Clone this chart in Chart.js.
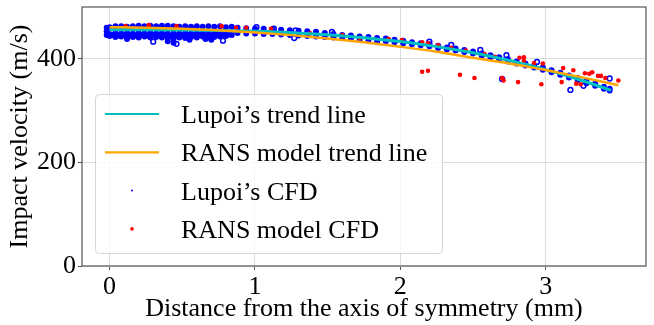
<!DOCTYPE html>
<html>
<head>
<meta charset="utf-8">
<script src="https://cdn.jsdelivr.net/npm/chart.js@4.4.0/dist/chart.umd.min.js"></script>
<style>
    html, body { margin: 0; padding: 0; background: #fff; }
    canvas { display: block; }
</style>
</head>
<body>
<canvas id="chart" width="654" height="325"></canvas>
<script>
var xTicks = [0, 1, 2, 3];
var yTicks = [0, 200, 400];

// trend lines
var lupoiTrendX = [0, 0.25, 0.5, 0.75, 1, 1.25, 1.5, 1.75, 2, 2.25, 2.5, 2.75, 3, 3.25, 3.45];
var lupoiTrendY = [456, 456, 455.6, 454.8, 453, 450.4, 446.4, 440.7, 433.2, 423.5, 411.5, 396.7, 379, 358.2, 339];
var ransTrendX = [0, 0.25, 0.5, 0.75, 1, 1.25, 1.5, 1.75, 2, 2.25, 2.5, 2.75, 3, 3.25, 3.5];
var ransTrendY = [461, 460.1, 458.2, 455.1, 451, 445.7, 439.3, 431.9, 423.3, 413.7, 402, 391.1, 378.2, 364.1, 349];

// Lupoi's CFD points, [x, y]
var lupoiCfd = [
    [0.00, 461], [0.04, 463], [0.08, 463], [0.12, 462], [0.16, 463], [0.20, 464], [0.24, 463], [0.28, 464],
    [0.32, 463], [0.36, 464], [0.40, 464], [0.44, 463], [0.48, 462], [0.52, 463], [0.56, 462], [0.60, 463],
    [0.64, 462], [0.68, 463], [0.72, 462], [0.76, 463], [0.80, 461], [0.84, 462],
    [0.00, 448], [0.04, 450], [0.08, 449], [0.12, 450], [0.16, 449], [0.20, 450], [0.24, 449], [0.28, 450],
    [0.32, 449], [0.36, 450], [0.40, 449], [0.44, 450], [0.48, 449], [0.52, 450], [0.56, 449], [0.60, 450],
    [0.64, 449], [0.68, 450], [0.72, 449], [0.76, 450], [0.80, 450], [0.84, 451],
    [0.02, 446], [0.06, 445], [0.10, 446], [0.14, 445], [0.18, 445], [0.22, 446], [0.26, 445], [0.30, 446],
    [0.34, 445], [0.38, 445], [0.42, 444], [0.46, 445], [0.50, 445], [0.54, 446], [0.58, 445], [0.62, 446],
    [0.66, 445], [0.70, 445], [0.74, 446], [0.78, 446], [0.82, 447],
    [0.00, 444], [0.04, 442], [0.08, 443], [0.12, 441], [0.16, 442], [0.20, 441], [0.24, 443], [0.28, 441],
    [0.32, 442], [0.36, 441], [0.40, 440], [0.44, 439], [0.48, 441], [0.52, 440], [0.56, 442], [0.60, 441],
    [0.64, 443], [0.68, 441], [0.72, 442], [0.76, 443], [0.80, 444], [0.84, 446],
    [-0.02, 460], [-0.02, 453], [-0.02, 446], [0.40, 434], [0.44, 431], [0.55, 437],
    [0.66, 438], [0.70, 437], [0.12, 438],
    [0.88, 460], [0.94, 459], [1.00, 458], [1.06, 458], [1.12, 457], [1.18, 456], [1.24, 455], [1.30, 454],
    [1.36, 453], [1.42, 452], [1.48, 450], [1.54, 448], [1.60, 446], [1.66, 445], [1.72, 443], [1.78, 442],
    [1.84, 440],
    [0.88, 450], [0.94, 449], [1.00, 449], [1.06, 448], [1.12, 448], [1.18, 447], [1.24, 446], [1.30, 445],
    [1.36, 444], [1.42, 443], [1.48, 442], [1.54, 441], [1.60, 440], [1.66, 438], [1.72, 437], [1.78, 435],
    [1.84, 433],
    [1.90, 439], [1.96, 437], [2.02, 435], [2.08, 432], [2.14, 430], [2.20, 428], [2.26, 425], [2.32, 422],
    [2.38, 420], [2.44, 417], [2.50, 414], [2.56, 410], [2.62, 407], [2.68, 403], [2.74, 399], [2.80, 395],
    [2.86, 391], [2.92, 387], [2.98, 383], [3.04, 378], [3.10, 373], [3.16, 368], [3.22, 363], [3.28, 357],
    [3.34, 352], [3.40, 346], [3.44, 342],
    [1.90, 434], [1.96, 432], [2.02, 430], [2.08, 428], [2.14, 426], [2.20, 424], [2.26, 421], [2.32, 418],
    [2.38, 416], [2.44, 413], [2.50, 410], [2.56, 406], [2.62, 403], [2.68, 399], [2.74, 395], [2.80, 391],
    [2.86, 387], [2.92, 383], [2.98, 379], [3.04, 374], [3.10, 369], [3.16, 364], [3.22, 359], [3.28, 353],
    [3.34, 348], [3.40, 342], [3.44, 339]
];

// little ring-shaped clusters of Lupoi's CFD
var lupoiCfdRings = [
    [0.30, 433], [0.46, 429], [0.78, 435], [1.01, 461], [1.13, 458], [1.28, 455], [1.27, 440], [1.53, 452],
    [2.20, 433], [2.35, 427], [2.55, 417], [2.73, 407], [2.94, 394], [2.70, 361], [3.17, 340], [3.26, 348],
    [3.44, 362]
];

// RANS model CFD points, [x, y]
var ransCfd = [
    [0.11, 463], [0.27, 465], [0.46, 463], [0.77, 463], [0.87, 460], [0.94, 460], [1.11, 458], [1.18, 450],
    [1.38, 449], [1.60, 446], [1.72, 440], [1.92, 438], [2.01, 436], [2.15, 432], [2.19, 430], [2.26, 426],
    [2.35, 421], [2.45, 416], [2.58, 409], [2.65, 404],
    [2.15, 375], [2.19, 377], [2.41, 369], [2.51, 363], [2.70, 363], [2.71, 358], [2.81, 355], [2.82, 402],
    [2.85, 403], [2.85, 396], [2.92, 392], [2.98, 391], [2.97, 351], [3.12, 382], [3.19, 378], [3.11, 355],
    [3.21, 352], [3.24, 351], [3.27, 372], [3.30, 371], [3.32, 374], [3.36, 367], [3.38, 367], [3.41, 363],
    [3.50, 358]
];

function toPoints(xs, ys) {
    var pts = [];
    for (var i = 0; i < xs.length; i++) {
        pts.push({ x: xs[i], y: ys[i] });
    }
    return pts;
}

function pairsToPoints(pairs) {
    return pairs.map(function (p) { return { x: p[0], y: p[1] }; });
}

var frameBox = {
    id: 'frameBox',
    afterDatasetsDraw: function (chart) {
        var a = chart.chartArea;
        var ctx = chart.ctx;
        ctx.save();
        ctx.strokeStyle = '#555';
        ctx.lineWidth = 1.2;
        ctx.strokeRect(a.left, a.top, a.right - a.left, a.bottom - a.top);
        ctx.restore();
    }
};

var legendBox = {
    id: 'legendBox',
    afterDraw: function (chart) {
        var ctx = chart.ctx;
        var sets = chart.data.datasets.filter(function (ds) { return ds.inLegend; });
        var left = 95, top = 94, width = 347, height = 159;

        ctx.save();
        ctx.beginPath();
        ctx.roundRect(left + 0.5, top + 0.5, width, height, 4);
        ctx.fillStyle = 'rgba(255,255,255,0.8)';
        ctx.fill();
        ctx.strokeStyle = '#d6d6d6';
        ctx.lineWidth = 1;
        ctx.stroke();

        ctx.font = "26px 'Liberation Serif', 'Times New Roman', serif";
        ctx.fillStyle = '#000';
        ctx.textBaseline = 'alphabetic';
        ctx.textAlign = 'left';

        for (var i = 0; i < sets.length; i++) {
            var ds = sets[i];
            var cy = 114 + i * 38.3;
            if (ds.showLine) {
                ctx.strokeStyle = ds.borderColor;
                ctx.lineWidth = 2.2;
                ctx.beginPath();
                ctx.moveTo(105, cy);
                ctx.lineTo(159, cy);
                ctx.stroke();
            } else {
                ctx.fillStyle = ds.backgroundColor;
                ctx.beginPath();
                ctx.arc(132, cy, ds.legendRadius, 0, Math.PI * 2);
                ctx.fill();
            }
            ctx.fillStyle = '#000';
            ctx.fillText(ds.label, 181, cy + 9);
        }
        ctx.restore();
    }
};

Chart.defaults.font.family = "'Liberation Serif', 'Times New Roman', serif";
Chart.defaults.color = '#000';

var chart = new Chart(document.getElementById('chart').getContext('2d'), {
    type: 'scatter',
    data: {
        datasets: [
            {
                label: 'Lupoi\u2019s trend line',
                inLegend: true,
                data: toPoints(lupoiTrendX, lupoiTrendY),
                showLine: true,
                borderColor: '#00bfbf',
                borderWidth: 3,
                pointRadius: 0,
                cubicInterpolationMode: 'monotone',
                order: 1
            },
            {
                label: 'RANS model trend line',
                inLegend: true,
                data: toPoints(ransTrendX, ransTrendY),
                showLine: true,
                borderColor: '#ffa500',
                borderWidth: 2.5,
                pointRadius: 0,
                cubicInterpolationMode: 'monotone',
                order: 0
            },
            {
                label: 'Lupoi\u2019s CFD',
                inLegend: true,
                legendRadius: 1,
                data: pairsToPoints(lupoiCfd),
                backgroundColor: '#0000ff',
                borderWidth: 0,
                pointRadius: 3,
                order: 4
            },
            {
                label: 'RANS model CFD',
                inLegend: true,
                legendRadius: 1.8,
                data: pairsToPoints(ransCfd),
                backgroundColor: '#ff0000',
                borderWidth: 0,
                pointRadius: 2.3,
                order: 2
            },
            {
                label: 'Lupoi\u2019s CFD (rings)',
                inLegend: false,
                data: pairsToPoints(lupoiCfdRings),
                backgroundColor: 'rgba(255,255,255,0)',
                borderColor: '#0000ff',
                borderWidth: 1.5,
                pointRadius: 2.4,
                order: 3
            }
        ]
    },
    options: {
        responsive: false,
        devicePixelRatio: 1,
        animation: false,
        layout: { padding: { left: 0, right: 8, top: 7, bottom: 0 } },
        plugins: {
            legend: { display: false },
            tooltip: { enabled: false }
        },
        scales: {
            x: {
                type: 'linear',
                min: -0.19,
                max: 3.69,
                afterBuildTicks: function (scale) {
                    scale.ticks = xTicks.map(function (v) { return { value: v }; });
                },
                afterFit: function (scale) {
                    scale.height = 59;
                    scale.paddingLeft = 0;
                    scale.paddingRight = 0;
                },
                border: { display: false },
                grid: { color: '#dcdcdc', lineWidth: 1, drawTicks: true, tickLength: 4, tickColor: '#555', tickWidth: 1 },
                ticks: { color: '#000', font: { size: 26 }, padding: 2, maxRotation: 0, autoSkip: false },
                title: {
                    display: true,
                    text: 'Distance from the axis of symmetry (mm)',
                    color: '#000',
                    font: { size: 26 },
                    padding: { top: 0, bottom: 0 }
                }
            },
            y: {
                type: 'linear',
                min: 0,
                max: 500,
                afterBuildTicks: function (scale) {
                    scale.ticks = yTicks.map(function (v) { return { value: v }; });
                },
                afterFit: function (scale) {
                    scale.width = 82;
                    scale.paddingTop = 0;
                    scale.paddingBottom = 0;
                },
                border: { display: false },
                grid: { color: '#dcdcdc', lineWidth: 1, drawTicks: true, tickLength: 4, tickColor: '#555', tickWidth: 1 },
                ticks: { color: '#000', font: { size: 26 }, padding: 2 },
                title: {
                    display: true,
                    text: 'Impact velocity (m/s)',
                    color: '#000',
                    font: { size: 26 },
                    padding: { top: 5, bottom: 0 }
                }
            }
        }
    },
    plugins: [frameBox, legendBox]
});
</script>
</body>
</html>
